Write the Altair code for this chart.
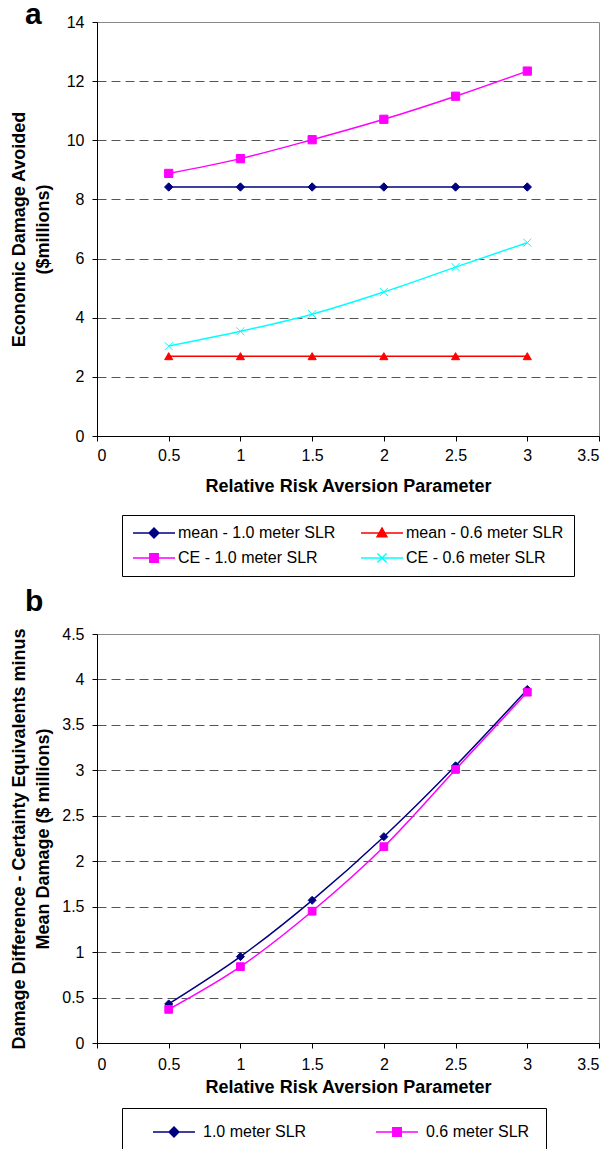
import altair as alt
import pandas as pd

# ---------------- data ----------------
rra = [0.5, 1.0, 1.5, 2.0, 2.5, 3.0]

mean_10 = [8.42, 8.42, 8.42, 8.42, 8.42, 8.42]
mean_06 = [2.70, 2.70, 2.70, 2.70, 2.70, 2.70]
ce_10 = [8.88, 9.38, 10.02, 10.71, 11.49, 12.34]
ce_06 = [3.04, 3.54, 4.12, 4.87, 5.71, 6.54]

diff_10 = [0.43, 0.95, 1.57, 2.27, 3.05, 3.89]
diff_06 = [0.37, 0.84, 1.45, 2.16, 3.01, 3.86]

# legend fills column by column: first column mean/CE 1.0, second mean/CE 0.6
names_a = ["mean - 1.0 meter SLR", "CE - 1.0 meter SLR",
           "mean - 0.6 meter SLR", "CE - 0.6 meter SLR"]
colors_a = ["#000080", "#FF00FF", "#FF0000", "#00FFFF"]
names_b = ["1.0 meter SLR", "0.6 meter SLR"]
colors_b = ["#000080", "#FF00FF"]

x_ticks = [0, 0.5, 1, 1.5, 2, 2.5, 3, 3.5]
y_ticks_a = [0, 2, 4, 6, 8, 10, 12, 14]
y_ticks_b = [0, 0.5, 1, 1.5, 2, 2.5, 3, 3.5, 4, 4.5]

x_title = "Relative Risk Aversion Parameter"
y_title_a = ["Economic Damage Avoided", "($millions)"]
y_title_b = ["Damage Difference - Certainty Equivalents minus",
             "Mean Damage ($ millions)"]

FONT = "Liberation Sans"

# marker shapes in the plot
CROSS = "M-1,-1L1,1M1,-1L-1,1"
shapes_a = ["diamond", "square", "triangle-up", CROSS]
sizes_a = [70, 64, 80, 100]
widths_a = [1, 1, 1, 1.5]
shapes_b = ["diamond", "square"]
sizes_b = [64, 60]
widths_b = [1, 1]

# legend symbols: a line with the marker in its middle
P_DIAMOND = "M-1,0H5M2,-0.7L2.7,0L2,0.7L1.3,0Z"
P_TRIANGLE = "M-1,0H5M2,-0.7L2.7,0.55L1.3,0.55Z"
P_SQUARE = "M-1,0H5M1.4,-0.6H2.6V0.6H1.4Z"
P_CROSS = "M-1,0H5M1.35,-0.65L2.65,0.65M2.65,-0.65L1.35,0.65"
legend_paths_a = [P_DIAMOND, P_SQUARE, P_TRIANGLE, P_CROSS]
legend_paths_b = [P_DIAMOND, P_SQUARE]


def make_df(names, series):
    rows = []
    for i, (n, vals) in enumerate(zip(names, series)):
        for x, v in zip(rra, vals):
            rows.append({"rra": x, "value": v, "series": n, "order": i})
    return pd.DataFrame(rows)


def panel(df, names, colors, shapes, sizes, widths, legend_paths, y_title,
          y_vals, y_max, w, h, letter, title_dy, y_title_pad,
          x_label_pad, x_title_pad, legend_opts):
    x_enc = alt.X("rra:Q",
                  scale=alt.Scale(domain=[0, 3.5], nice=False, zero=False),
                  axis=alt.Axis(values=x_ticks, title=x_title, grid=False,
                                format="~g", tickSize=5, labelPadding=x_label_pad,
                                titlePadding=x_title_pad))
    y_enc = alt.Y("value:Q",
                  scale=alt.Scale(domain=[0, y_max], nice=False),
                  axis=alt.Axis(values=y_vals, title=y_title, format="~g",
                                tickSize=5, labelPadding=8,
                                titlePadding=y_title_pad,
                                gridOpacity={"condition": {"test": "datum.value >= %s" % y_max, "value": 0},
                                             "value": 1}))
    legend = alt.Legend(
        orient="none", columns=2, title=None,
        symbolSize=196, symbolStrokeWidth=1.5, symbolOpacity=1,
        labelFont=FONT, labelFontSize=16, labelColor="black", labelLimit=500,
        strokeColor="black", fillColor="white",
        **legend_opts)
    lines = alt.Chart(df).mark_line(interpolate="monotone", strokeWidth=1.5).encode(
        x=x_enc, y=y_enc,
        color=alt.Color("series:N", scale=alt.Scale(domain=names, range=colors), legend=None),
        order=alt.Order("order:Q"),
    )
    points = alt.Chart(df).mark_point(filled=True, opacity=1).encode(
        x=x_enc, y=y_enc,
        color=alt.Color("series:N", scale=alt.Scale(domain=names, range=colors), legend=None),
        stroke=alt.Stroke("series:N", scale=alt.Scale(domain=names, range=colors), legend=None),
        shape=alt.Shape("series:N", scale=alt.Scale(domain=names, range=shapes), legend=None),
        size=alt.Size("series:N", scale=alt.Scale(domain=names, range=sizes), legend=None),
        strokeWidth=alt.StrokeWidth("series:N", scale=alt.Scale(domain=names, range=widths), legend=None),
    )
    # legend carrier: draws nothing, only supplies the legend (line + marker keys)
    key = alt.Chart(df).transform_filter("false").mark_point(
        filled=True, size=196, strokeWidth=1.5, opacity=1
    ).encode(
        x=x_enc, y=y_enc,
        color=alt.Color("series:N", scale=alt.Scale(domain=names, range=colors), legend=legend),
        stroke=alt.Stroke("series:N", scale=alt.Scale(domain=names, range=colors), legend=legend),
        shape=alt.Shape("series:N", scale=alt.Scale(domain=names, range=legend_paths), legend=legend),
    )
    return alt.layer(lines, points, key).resolve_scale(
        color="independent", stroke="independent", shape="independent",
        size="independent", strokeWidth="independent"
    ).properties(
        width=w, height=h,
        title=alt.TitleParams(letter, anchor="start", frame="group", fontSize=30,
                              fontWeight="bold", font=FONT, color="black",
                              baseline="alphabetic", offset=0, dx=-72, dy=title_dy),
    )


df_a = make_df(names_a, [mean_10, ce_10, mean_06, ce_06])
df_b = make_df(names_b, [diff_10, diff_06])

chart_a = panel(df_a, names_a, colors_a, shapes_a, sizes_a, widths_a, legend_paths_a,
                y_title_a, y_ticks_a, 14, 502, 414, "a", 39.5, 14, 6, 14,
                dict(legendX=25, legendY=493, symbolOffset=0, labelOffset=30,
                     columnPadding=22, rowPadding=9, padding=10))

chart_b = panel(df_b, names_b, colors_b, shapes_b, sizes_b, widths_b, legend_paths_b,
                y_title_b, y_ticks_b, 4.5, 502, 409, "b", 15.1, 9, 8, 6,
                dict(legendX=25, legendY=474, symbolOffset=14, labelOffset=35,
                     columnPadding=54, rowPadding=10, padding=16))

chart = alt.vconcat(chart_a, chart_b, spacing=9).resolve_scale(
    color="independent", stroke="independent", shape="independent",
    size="independent", strokeWidth="independent", x="independent", y="independent"
).resolve_legend(color="independent", stroke="independent", shape="independent").properties(
    padding={"left": 1, "top": -9, "right": 5, "bottom": 5}
).configure_axis(
    labelFont=FONT, labelFontSize=16, labelColor="black",
    titleFont=FONT, titleFontSize=18, titleFontWeight="bold", titleColor="black",
    titleLineHeight=24,
    domainColor="black", tickColor="black", domainWidth=1, tickWidth=1,
    gridColor="#555555", gridDash=[9, 5], gridWidth=1,
).configure_view(stroke="#888888", strokeWidth=1)

chart.save("out.html", embed_options={"renderer": "svg", "actions": False})
